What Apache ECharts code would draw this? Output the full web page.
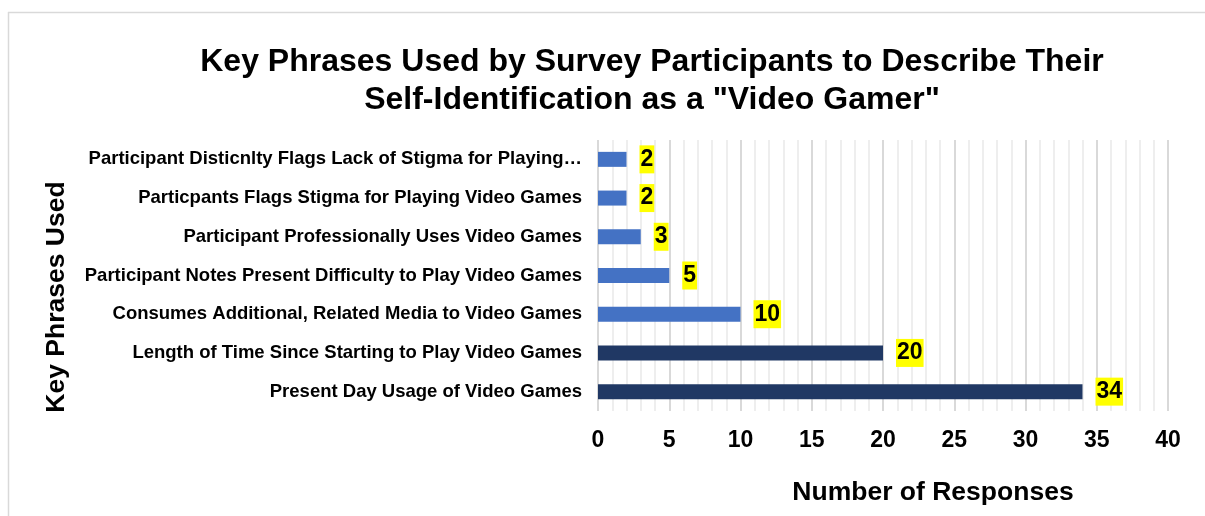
<!DOCTYPE html>
<html>
<head>
<meta charset="utf-8">
<script src="https://cdn.jsdelivr.net/npm/echarts@6/dist/echarts.min.js"></script>
<style>
  html, body { margin: 0; padding: 0; background: #ffffff; }
  #chart { width: 1205px; height: 516px; }
</style>
</head>
<body>
<div id="chart"></div>
<script>
// Categories, top to bottom
const categories = [
  'Participant Disticnlty Flags Lack of Stigma for Playing\u2026',
  'Particpants Flags Stigma for Playing Video Games',
  'Participant Professionally Uses Video Games',
  'Participant Notes Present Difficulty to Play Video Games',
  'Consumes Additional, Related Media to Video Games',
  'Length of Time Since Starting to Play Video Games',
  'Present Day Usage of Video Games'
];
// Number of responses per phrase
const responses = [2, 2, 3, 5, 10, 20, 34];
// Bar colour group: 0 = lighter blue, 1 = dark navy
const colourGroup = [0, 0, 0, 0, 0, 1, 1];

const titleLines = ['Key Phrases Used by Survey Participants to Describe Their', 'Self-Identification as a "Video Gamer"'];
const xAxisTitle = 'Number of Responses';
const yAxisTitle = 'Key Phrases Used';

const palette = ['#4472C4', '#203864'];
const FONT = '"Liberation Sans", Arial, sans-serif';

const chart = echarts.init(document.getElementById('chart'), null, { renderer: 'canvas' });

chart.setOption({
  backgroundColor: '#ffffff',
  animation: false,
  title: {
    text: titleLines.join('\n'),
    left: 647,
    top: 38,
    textAlign: 'center',
    textStyle: {
      fontFamily: FONT,
      fontSize: 32,
      fontWeight: 'bold',
      color: '#000000',
      lineHeight: 38
    }
  },
  grid: {
    left: 598,
    right: 37,
    top: 140,
    bottom: 105,
    containLabel: false
  },
  xAxis: {
    type: 'value',
    min: 0,
    max: 40,
    interval: 5,
    name: xAxisTitle,
    nameLocation: 'middle',
    nameGap: 68,
    nameTextStyle: {
      fontFamily: FONT,
      fontSize: 26.5,
      fontWeight: 'bold',
      color: '#000000',
      padding: [0, 0, 0, 100]
    },
    axisLine: { show: false },
    axisTick: { show: false },
    axisLabel: {
      margin: 18,
      fontFamily: FONT,
      fontSize: 23,
      fontWeight: 'bold',
      color: '#000000'
    },
    splitLine: { show: true, lineStyle: { color: '#d9d9d9', width: 2 } },
    minorTick: { show: false, splitNumber: 5 },
    minorSplitLine: { show: true, lineStyle: { color: '#eeeeee', width: 2 } }
  },
  yAxis: {
    type: 'category',
    data: categories,
    inverse: true,
    axisLine: { show: false },
    axisTick: { show: false },
    splitLine: { show: false },
    axisLabel: {
      margin: 16,
      fontFamily: FONT,
      fontSize: 18.5,
      fontWeight: 'bold',
      color: '#000000'
    }
  },
  series: [{
    type: 'bar',
    barWidth: 15,
    data: responses.map((v, i) => ({
      value: v,
      itemStyle: { color: palette[colourGroup[i]] }
    })),
    label: {
      show: true,
      position: 'right',
      distance: 13,
      fontFamily: FONT,
      fontSize: 23,
      fontWeight: 'bold',
      color: '#000000',
      backgroundColor: '#ffff00',
      padding: [3, 1, 2, 1]
    }
  }],
  graphic: [
    {
      type: 'line',
      shape: { x1: 8, y1: 12.5, x2: 1205, y2: 12.5 },
      style: { stroke: '#d9d9d9', lineWidth: 1.5 },
      silent: true
    },
    {
      type: 'line',
      shape: { x1: 8.5, y1: 12, x2: 8.5, y2: 516 },
      style: { stroke: '#d9d9d9', lineWidth: 1.5 },
      silent: true
    },
    {
      type: 'text',
      x: 57,
      y: 297,
      rotation: Math.PI / 2,
      style: {
        text: yAxisTitle,
        fontFamily: FONT,
        fontSize: 26.5,
        fontWeight: 'bold',
        fill: '#000000',
        align: 'center',
        verticalAlign: 'middle'
      }
    }
  ]
});
</script>
</body>
</html>
